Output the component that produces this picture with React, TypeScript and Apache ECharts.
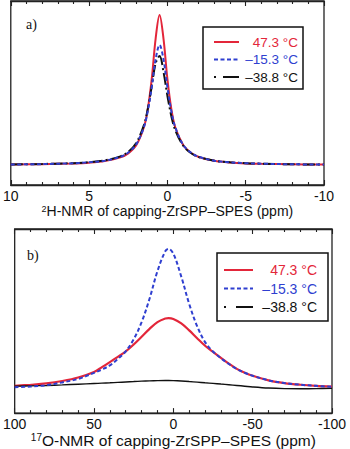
import React, { useEffect, useRef } from "react";
import * as echarts from "echarts";

// Panel a) 2H-NMR
const ppmA = [10, 8, 6, 5, 4, 3, 2.5, 2, 1.5, 1.25, 1, 0.75, 0.5, 0.25, 0, -0.25, -0.5, -1, -1.5, -2, -3, -4, -5, -6, -8, -10];
const redA = [0.3, 0.6, 1.1, 1.6, 2.7, 5.1, 7.8, 13, 25.2, 37.4, 57.4, 84.3, 100, 84.3, 57.4, 37.4, 25.2, 13.5, 8.2, 5.4, 2.8, 1.7, 1.1, 0.8, 0.5, 0.3];
const blueA = [0.4, 0.6, 1.2, 1.8, 2.9, 5.5, 8.3, 13.6, 25.3, 36, 51.9, 70.5, 80, 70.5, 51.9, 36, 25.3, 13.6, 8.3, 5.5, 2.9, 1.8, 1.2, 0.9, 0.5, 0.35];
const blackA = [0.4, 0.7, 1.25, 1.9, 3.1, 5.8, 8.8, 14.5, 26.6, 37.5, 52.5, 67.8, 72.7, 62.2, 46.2, 32.7, 23.3, 13, 8, 5.4, 2.9, 1.8, 1.2, 0.9, 0.5, 0.35];

// Panel b) 17O-NMR
const ppmB = [100, 90, 80, 70, 60, 50, 45, 40, 35, 30, 25, 20, 15, 10, 5, 3, 0, -5, -10, -15, -20, -25, -30, -35, -40, -45, -50, -60, -70, -80, -90, -100];
const redB = [1, 1.8, 2.8, 4.5, 7, 11, 14.5, 18.2, 22, 25.9, 30.9, 36.5, 42.2, 47.1, 49.7, 50, 49.4, 46.2, 41.1, 35.4, 30, 25.5, 21.3, 17, 13.3, 10.5, 8.3, 5, 3, 1.8, 1, 0.5];
const blueB = [0, 0.5, 1.5, 3.5, 6, 10.4, 12.8, 15.8, 20.5, 26, 34.6, 47, 64, 84, 98.5, 100, 96.6, 80, 60.2, 44.1, 32.6, 25.8, 21, 16.8, 13.2, 10.5, 8.3, 5, 3, 1.8, 1, 0.3];
const blackB = [0.8, 1, 1.3, 1.7, 2.2, 2.7, 2.95, 3.2, 3.5, 3.8, 4.1, 4.4, 4.6, 4.8, 4.9, 4.9, 4.8, 4.5, 4.1, 3.7, 3.2, 2.8, 2.3, 1.8, 1.3, 0.75, 0.2, -0.6, -1, -1.1, -1, -0.8];

const seriesNames = ["47.3 °C", "–15.3 °C", "–38.8 °C"];
const colors = ["#e3263a", "#2f3fd0", "#111111"];
const legendDashesA: any[] = ["solid", [4, 2.5], [2, 7, 16, 10]];
const legendDashesB: any[] = ["solid", [4, 2.5], [2, 10, 18, 10]];
const plotDashesA: any[] = ["solid", [4, 2.5], [12, 3, 2, 3]];
const plotDashesB: any[] = ["solid", [4, 2.5], "solid"];
const zOrder = [1, 3, 2];

const FONT = "Liberation Sans, Arial, sans-serif";

function pairs(xs: number[], ys: number[]) {
  return xs.map((x, i) => [x, ys[i]]);
}

export default function App() {
  const ref = useRef<HTMLDivElement>(null);
  useEffect(() => {
    if (!ref.current) return;
    const chart = echarts.init(ref.current, null, { renderer: "svg" });

    const tickStyle = { color: "#222", width: 1.1 };
    const bottomAxis = (gi: number, min: number, max: number, interval: number, name: string, nameSize: number, nameGap: number) => ({
      gridIndex: gi,
      type: "value",
      min,
      max,
      interval,
      inverse: true,
      position: "bottom",
      axisLine: { show: true, onZero: false, lineStyle: { color: "#222", width: 1.3 } },
      axisTick: { show: true, inside: true, length: 5, lineStyle: tickStyle },
      minorTick: { show: true, splitNumber: 5, length: 3, lineStyle: tickStyle },
      splitLine: { show: false },
      minorSplitLine: { show: false },
      axisLabel: { fontSize: 14, color: "#111", margin: 4, fontFamily: FONT, showMinLabel: true, showMaxLabel: true },
      name,
      nameLocation: "middle",
      nameGap,
      nameTextStyle: {
        fontSize: nameSize,
        color: "#111",
        fontFamily: FONT,
        rich: {
          sup: { fontSize: Math.round(nameSize * 0.65), verticalAlign: "top", fontFamily: FONT, color: "#111" },
          n: { fontSize: nameSize, fontFamily: FONT, color: "#111" },
        },
      },
    });
    const topAxis = (gi: number, min: number, max: number, interval: number) => ({
      gridIndex: gi,
      type: "value",
      min,
      max,
      interval,
      inverse: true,
      position: "top",
      axisLine: { show: true, onZero: false, lineStyle: { color: "#222", width: 1.3 } },
      axisTick: { show: true, inside: true, length: 5, lineStyle: tickStyle },
      minorTick: { show: true, splitNumber: 5, length: 3, lineStyle: tickStyle },
      splitLine: { show: false },
      axisLabel: { show: false },
    });

    const mkSeries = (xi: number, yi: number, xs: number[], data: number[][], widths: number[], dashes: any[]) =>
      data.map((ys, k) => ({
        type: "line",
        name: seriesNames[k],
        xAxisIndex: xi,
        yAxisIndex: yi,
        data: pairs(xs, ys),
        smooth: 0.35,
        showSymbol: false,
        symbol: "none",
        z: zOrder[k],
        lineStyle: { color: colors[k], width: widths[k], type: dashes[k] },
        itemStyle: { color: colors[k] },
      }));

    const legendFor = (left: number, top: number, pad: number[], itemW: number, gap: number, textW: number, fs: number, dashes: any[]) => ({
      orient: "vertical",
      left,
      top,
      padding: pad,
      itemWidth: itemW,
      itemHeight: 12,
      itemGap: gap,
      borderColor: "#111",
      borderWidth: 1.5,
      backgroundColor: "#fff",
      selectedMode: false,
      itemStyle: { opacity: 0 },
      data: seriesNames.map((n, k) => ({
        name: n,
        itemStyle: { opacity: 0 },
        lineStyle: { color: colors[k], width: 2, type: dashes[k] },
        textStyle: { rich: { r: { width: textW, align: "right", fontSize: fs, color: colors[k], fontFamily: FONT } } },
      })),
      formatter: (n: string) => "{r|" + n + "}",
      textStyle: { fontSize: fs, fontFamily: FONT },
    });

    chart.setOption({
      animation: false,
      backgroundColor: "#fff",
      grid: [
        { left: 9, right: 26, top: 1, bottom: 264, show: true, borderColor: "#222", borderWidth: 1.3 },
        { left: 12, right: 18, top: 229, bottom: 35, show: true, borderColor: "#222", borderWidth: 1.3 },
      ],
      xAxis: [
        bottomAxis(0, -10, 10, 5, "{sup|2}{n|H-NMR of capping-ZrSPP–SPES (ppm)}", 14, 19),
        topAxis(0, -10, 10, 5),
        bottomAxis(1, -100, 100, 50, "{sup|17}{n|O-NMR of capping-ZrSPP–SPES (ppm)}", 15.5, 17),
        topAxis(1, -100, 100, 50),
      ],
      yAxis: [
        { gridIndex: 0, type: "value", min: -13.3, max: 109.3, show: false, splitLine: { show: false } },
        { gridIndex: 1, type: "value", min: -18.7, max: 114.4, show: false, splitLine: { show: false } },
      ],
      legend: [
        legendFor(203, 27, [8, 5, 5, 10], 25, 3.5, 54, 13.5, legendDashesA),
        legendFor(217, 253, [10, 11, 7, 6], 29, 4.5, 59, 14, legendDashesB),
      ],
      series: [
        ...mkSeries(0, 0, ppmA, [redA, blueA, blackA], [2, 2, 2], plotDashesA),
        ...mkSeries(2, 1, ppmB, [redB, blueB, blackB], [2.2, 2, 1.4], plotDashesB),
      ],
      graphic: [
        { type: "text", left: 26, top: 17, style: { text: "a)", fontFamily: "Liberation Serif, Times New Roman, serif", fontSize: 14, fill: "#111" } },
        { type: "text", left: 27, top: 248, style: { text: "b)", fontFamily: "Liberation Serif, Times New Roman, serif", fontSize: 14, fill: "#111" } },
      ],
    } as any);
    return () => chart.dispose();
  }, []);
  return <div ref={ref} style={{ position: "absolute", left: 0, top: 0, width: 350, height: 449 }} />;
}
